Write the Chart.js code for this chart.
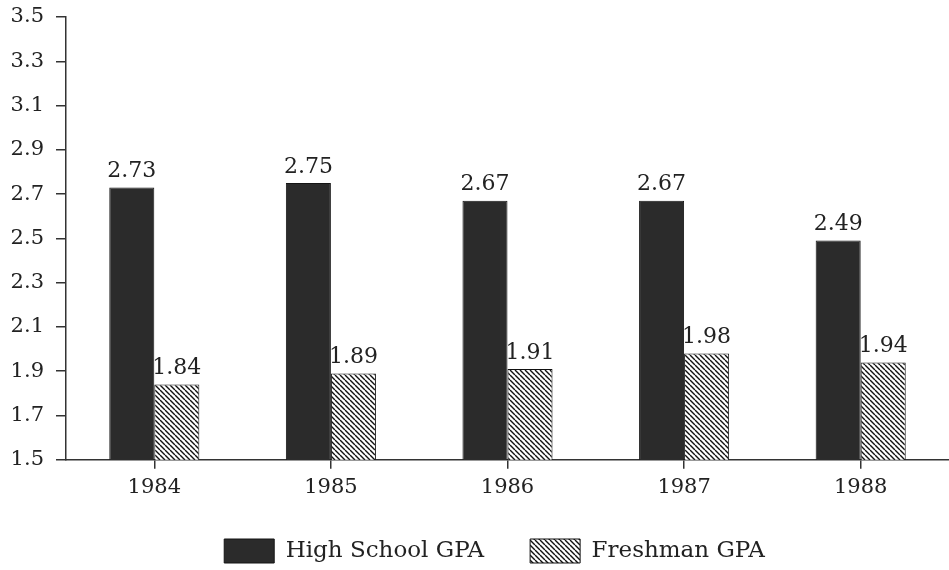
<!DOCTYPE html>
<html>
<head>
<meta charset="utf-8">
<script src="https://cdn.jsdelivr.net/npm/chart.js@4.4.1/dist/chart.umd.min.js"></script>
<style>
  html, body { margin: 0; padding: 0; background: #fff; }
  canvas { display: block; }
</style>
</head>
<body>
<canvas id="gpaChart" width="949" height="570"></canvas>
<script>
// chart data
const years = ['1984', '1985', '1986', '1987', '1988'];
const highSchoolGpa = [2.73, 2.75, 2.67, 2.67, 2.49];
const freshmanGpa = [1.84, 1.89, 1.91, 1.98, 1.94];
const seriesNames = ['High School GPA', 'Freshman GPA'];

const FONT = '"DejaVu Serif", "Liberation Serif", serif';
const INK = '#222';

// diagonal hatch for the second series
function makeHatch() {
    const s = 5;
    const c = document.createElement('canvas');
    c.width = s; c.height = s;
    const g = c.getContext('2d');
    g.fillStyle = '#fff';
    g.fillRect(0, 0, s, s);
    g.strokeStyle = '#111';
    g.lineWidth = 1.4;
    g.beginPath();
    for (let k = -s; k <= s; k += s) {
        g.moveTo(k, 0);
        g.lineTo(k + s, s);
    }
    g.stroke();
    return g.createPattern(c, 'repeat');
}

// value labels above each bar
const valueLabels = {
    id: 'valueLabels',
    afterDatasetsDraw(chart) {
        const ctx = chart.ctx;
        ctx.save();
        ctx.font = '22px ' + FONT;
        ctx.fillStyle = INK;
        ctx.textAlign = 'center';
        ctx.textBaseline = 'bottom';
        chart.data.datasets.forEach((ds, i) => {
            chart.getDatasetMeta(i).data.forEach((bar, j) => {
                ctx.fillText(ds.data[j].toFixed(2), bar.x, bar.y - 5);
            });
        });
        ctx.restore();
    }
};

// legend sits a bit right of centre and higher than chart.js puts it
const legendShift = {
    id: 'legendShift',
    afterLayout(chart) {
        const lg = chart.legend;
        lg.left += 20;
        lg.right += 20;
        lg.top -= 13;
        lg.bottom -= 13;
    }
};

const ctx = document.getElementById('gpaChart').getContext('2d');
const hatch = makeHatch();

new Chart(ctx, {
    type: 'bar',
    data: {
        labels: years,
        datasets: [{
            label: seriesNames[0],
            data: highSchoolGpa,
            backgroundColor: '#2b2b2b',
            borderColor: '#151515',
            borderWidth: 1
        }, {
            label: seriesNames[1],
            data: freshmanGpa,
            backgroundColor: hatch,
            borderColor: '#111',
            borderWidth: 1
        }]
    },
    options: {
        responsive: false,
        animation: false,
        layout: { padding: { top: 17, right: 0, left: 0, bottom: -16 } },
        datasets: {
            bar: { barPercentage: 1, categoryPercentage: 0.51 }
        },
        scales: {
            x: {
                grid: { display: true, drawOnChartArea: false, offset: false, tickLength: 9, color: '#333', lineWidth: 1.5 },
                border: { display: true, color: '#333', width: 1.5 },
                ticks: { font: { family: FONT, size: 21 }, color: INK, padding: 6 }
            },
            y: {
                min: 1.5,
                max: 3.5,
                grid: { display: true, drawOnChartArea: false, tickLength: 10, color: '#333', lineWidth: 1.5 },
                border: { display: true, color: '#333', width: 1.5 },
                ticks: {
                    stepSize: 0.2,
                    font: { family: FONT, size: 21 },
                    color: INK,
                    padding: 12,
                    callback: v => Number(v).toFixed(1)
                },
                afterFit(scale) {
                    scale.width = 66;
                    scale.paddingTop = 0;
                }
            }
        },
        plugins: {
            legend: {
                position: 'bottom',
                labels: {
                    boxWidth: 50,
                    boxHeight: 24,
                    padding: 46,
                    color: INK,
                    font: { family: FONT, size: 23 }
                }
            },
            tooltip: { enabled: false }
        }
    },
    plugins: [valueLabels, legendShift]
});
</script>
</body>
</html>
